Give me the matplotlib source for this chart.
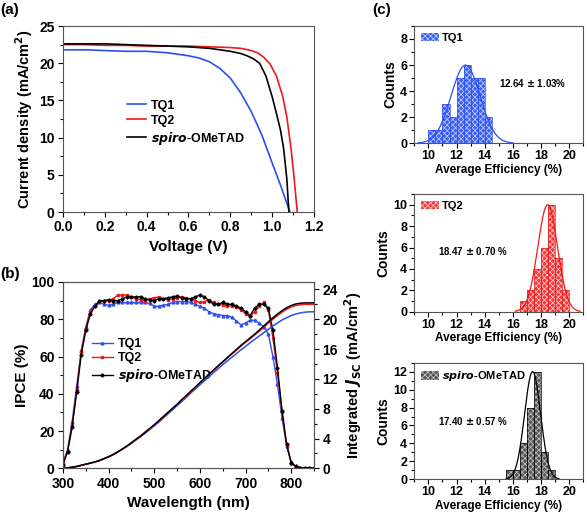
import numpy as np
import matplotlib
matplotlib.use('Agg')
import matplotlib.pyplot as plt
from matplotlib.ticker import MultipleLocator, FormatStrFormatter

plt.rcParams['font.family'] = ['Liberation Sans', 'DejaVu Sans']
plt.rcParams['font.weight'] = 'bold'
plt.rcParams['axes.labelweight'] = 'bold'
plt.rcParams['hatch.linewidth'] = 0.6

# ---- (a) J-V curves ----
v_tq1 = [0.0, 0.1, 0.2, 0.3, 0.4, 0.5, 0.55, 0.6, 0.65, 0.7, 0.75, 0.8, 0.85, 0.9, 0.95, 1.0, 1.04, 1.085]
j_tq1 = [21.8, 21.8, 21.7, 21.6, 21.6, 21.4, 21.2, 21.0, 20.7, 20.2, 19.3, 18.0, 16.0, 13.5, 10.4, 6.6, 3.6, 0.0]

v_tq2 = [0.0, 0.1, 0.2, 0.3, 0.4, 0.5, 0.6, 0.7, 0.8, 0.85, 0.9, 0.93, 0.96, 0.99, 1.02, 1.05, 1.07, 1.09, 1.105, 1.12]
j_tq2 = [22.5, 22.5, 22.4, 22.4, 22.3, 22.3, 22.3, 22.2, 22.1, 22.0, 21.7, 21.4, 20.8, 19.9, 18.3, 15.6, 12.8, 8.6, 4.6, 0.0]

v_spiro = [0.0, 0.1, 0.2, 0.3, 0.4, 0.5, 0.6, 0.7, 0.75, 0.8, 0.85, 0.88, 0.91, 0.94, 0.97, 1.0, 1.02, 1.04, 1.055, 1.07, 1.08]
j_spiro = [22.6, 22.6, 22.6, 22.5, 22.4, 22.3, 22.2, 22.0, 21.8, 21.6, 21.3, 21.0, 20.6, 20.0, 18.3, 15.5, 13.3, 11.0, 8.5, 4.5, 0.0]

# ---- (b) IPCE and integrated Jsc ----
wl = [300, 310, 320, 330, 340, 350, 360, 370, 380, 390, 400, 410, 420, 430, 440, 450, 460, 470, 480, 490,
      500, 510, 520, 530, 540, 550, 560, 570, 580, 590, 600, 610, 620, 630, 640, 650, 660, 670, 680, 690,
      700, 710, 720, 730, 740, 750, 760, 770, 780, 790, 800, 810, 820, 830, 840, 850]
ipce_tq1 = [3, 10, 25, 44, 63, 76, 85, 88, 89, 88, 87.5, 88, 89, 89, 89, 89, 89, 89, 89, 88.5,
            87, 87, 87.5, 88, 89, 89.5, 89.5, 89.5, 89, 88, 87, 86, 84, 83, 82.5, 82, 82, 81, 79, 77,
            78, 79.5, 79.5, 78, 76, 72, 60, 45, 27, 12, 3, 1, 0.4, 0.2, 0.1, 0.1]
ipce_tq2 = [3, 9, 23, 42, 63, 75, 84, 87, 89, 90, 90, 91, 93, 93, 93, 92, 91, 90.5, 90, 91,
            91.5, 92, 91, 90.5, 91, 91.5, 92, 91.5, 91, 90, 89, 89.5, 90.5, 89, 88, 87.5, 87.3, 87, 86.8, 85,
            83, 81.5, 84, 87, 89, 85, 70, 51, 30, 12.5, 3.6, 0.9, 0.3, 0.2, 0.1, 0.1]
ipce_spiro = [2, 9, 22, 41, 61, 74, 83, 87, 90, 90, 90.5, 90, 90, 91, 92, 92, 92, 92, 91, 90.5,
              90, 91, 91, 91.5, 92, 92.5, 91.5, 91, 91, 92, 93, 92, 90, 88, 88, 89, 88, 88, 87, 86,
              84, 82, 86, 88, 88, 86, 74, 54, 31, 13, 3, 1, 0.3, 0.2, 0.1, 0.1]

jint_tq1 = [0, 0.05, 0.15, 0.25, 0.4, 0.55, 0.7, 0.85, 1.05, 1.3, 1.55, 1.85, 2.2, 2.55, 2.95, 3.35, 3.8, 4.25, 4.7, 5.2,
            5.7, 6.2, 6.75, 7.3, 7.85, 8.4, 8.95, 9.5, 10.1, 10.65, 11.2, 11.75, 12.3, 12.85, 13.35, 13.9, 14.4, 14.9, 15.4, 15.9,
            16.35, 16.85, 17.3, 17.75, 18.2, 18.65, 19.1, 19.5, 19.9, 20.2, 20.5, 20.7, 20.85, 20.95, 21.0, 21.0]
jint_tq2 = [0, 0.05, 0.15, 0.25, 0.4, 0.55, 0.7, 0.85, 1.05, 1.3, 1.55, 1.85, 2.2, 2.55, 2.95, 3.4, 3.85, 4.3, 4.8, 5.3,
            5.8, 6.35, 6.9, 7.45, 8.0, 8.55, 9.15, 9.7, 10.3, 10.85, 11.45, 12.0, 12.6, 13.15, 13.7, 14.25, 14.8, 15.35, 15.85, 16.4,
            16.9, 17.4, 17.9, 18.4, 18.95, 19.5, 20.0, 20.5, 20.95, 21.35, 21.65, 21.85, 21.95, 22.0, 22.0, 22.0]
jint_spiro = [0, 0.05, 0.15, 0.25, 0.4, 0.55, 0.7, 0.85, 1.05, 1.3, 1.55, 1.85, 2.2, 2.6, 3.0, 3.45, 3.9, 4.35, 4.85, 5.35,
              5.85, 6.4, 6.95, 7.5, 8.05, 8.6, 9.2, 9.75, 10.35, 10.9, 11.5, 12.05, 12.65, 13.2, 13.75, 14.3, 14.85, 15.4, 15.95, 16.5,
              17.0, 17.5, 18.0, 18.55, 19.1, 19.65, 20.2, 20.7, 21.15, 21.55, 21.85, 22.05, 22.15, 22.2, 22.2, 22.2]

# ---- (c) efficiency histograms ----
tq1_start, tq1_counts = 10.0, [1, 1, 3, 2, 5, 6, 5, 5, 2]
tq2_start, tq2_counts = 16.5, [1, 2, 4, 6, 10, 5, 2]
spiro_start, spiro_counts = 15.5, [1, 1, 4, 8, 12, 3, 1]
bin_w = 0.5
fits = {'TQ1': (12.64, 1.03, 6.0), 'TQ2': (18.47, 0.70, 10.0), 'spiro': (17.40, 0.57, 12.0)}

blue, red, black = '#2b4ff2', '#f01818', '#000000'

fig = plt.figure(figsize=(5.87, 5.13), dpi=100)


def style_ax(ax, fs=10, pad=2.5):
    ax.tick_params(which='both', direction='out', labelsize=fs, width=0.8, pad=pad)
    ax.tick_params(which='major', length=3.5)
    ax.tick_params(which='minor', length=2)
    for s in ax.spines.values():
        s.set_linewidth(0.8)
        s.set_color('#555555')
    for lab in ax.get_xticklabels() + ax.get_yticklabels():
        lab.set_fontweight('bold')


# (a)
axa = fig.add_axes([0.1073, 0.5867, 0.4276, 0.3626])
axa.plot(v_tq1, j_tq1, color=blue, lw=1.2, label='TQ1')
axa.plot(v_tq2, j_tq2, color=red, lw=1.2, label='TQ2')
axa.plot(v_spiro, j_spiro, color=black, lw=1.2, label='$\\bfit{spiro}$-OMeTAD')
axa.set_xlim(0, 1.2)
axa.set_ylim(0, 25)
axa.xaxis.set_major_locator(MultipleLocator(0.2))
axa.xaxis.set_minor_locator(MultipleLocator(0.1))
axa.yaxis.set_major_locator(MultipleLocator(5))
axa.yaxis.set_minor_locator(MultipleLocator(2.5))
axa.set_xlabel('Voltage (V)', fontsize=11, labelpad=4)
axa.set_ylabel('Current density (mA/cm$^\\mathbf{2}$)', fontsize=10.5, labelpad=3)
style_ax(axa, 10)
axa.xaxis.set_major_formatter(FormatStrFormatter('%.1f'))
axa.legend(loc='upper left', bbox_to_anchor=(0.21, 0.665), frameon=False,
           handlelength=1.5, handletextpad=0.4, labelspacing=0.25, prop={'weight': 'bold', 'size': 9})

# (b)
axb = fig.add_axes([0.1073, 0.0871, 0.4276, 0.3632])
axb.plot(wl, ipce_tq1, color=blue, lw=1.0, marker='^', ms=2.0, label='TQ1')
axb.plot(wl, ipce_tq2, color=red, lw=1.0, marker='s', ms=2.0, label='TQ2')
axb.plot(wl, ipce_spiro, color=black, lw=1.0, marker='D', ms=1.6, label='$\\bfit{spiro}$-OMeTAD')
axb.set_xlim(300, 850)
axb.set_ylim(0, 100)
axb.xaxis.set_major_locator(MultipleLocator(100))
axb.xaxis.set_minor_locator(MultipleLocator(50))
axb.yaxis.set_major_locator(MultipleLocator(20))
axb.yaxis.set_minor_locator(MultipleLocator(10))
axb.set_xlabel('Wavelength (nm)', fontsize=11, labelpad=4)
axb.set_ylabel('IPCE (%)', fontsize=11, labelpad=2)
style_ax(axb, 10)
axb.legend(loc='upper left', bbox_to_anchor=(0.07, 0.76), frameon=False,
           handlelength=1.7, handletextpad=0.4, labelspacing=0.2, prop={'weight': 'bold', 'size': 9})

axb2 = axb.twinx()
axb2.plot(wl, jint_tq1, color=blue, lw=1.1)
axb2.plot(wl, jint_tq2, color=red, lw=1.1)
axb2.plot(wl, jint_spiro, color=black, lw=1.1)
axb2.set_ylim(0, 25)
axb2.yaxis.set_major_locator(MultipleLocator(4))
axb2.yaxis.set_minor_locator(MultipleLocator(2))
axb2.set_ylabel('Integrated $\\mathbf{\\it{J}}_{\\mathbf{SC}}$ (mA/cm$^\\mathbf{2}$)', fontsize=10.5, labelpad=3)
style_ax(axb2, 10)

# (c)
hist_specs = [
    ([0.7058, 0.7207, 0.2879, 0.2287], tq1_start, tq1_counts, 'TQ1', '#3a5ff0', '#b8c6ff', blue, 9, 2, 'TQ1',
     '12.64 $\\pm$ 1.03%', (0.50, 0.51)),
    ([0.7058, 0.3924, 0.2879, 0.2294], tq2_start, tq2_counts, 'TQ2', '#f23a3a', '#ffc0c0', red, 11, 2, 'TQ2',
     '18.47 $\\pm$ 0.70 %', (0.14, 0.52)),
    ([0.7058, 0.0657, 0.2879, 0.2273], spiro_start, spiro_counts, 'spiro', '#555555', '#bbbbbb', black, 13, 2,
     '$\\bfit{spiro}$-OMeTAD', '17.40 $\\pm$ 0.57 %', (0.14, 0.50)),
]
for rect, start, counts, key, fc, hc, lc, ytop, ystep, lab, txt, tpos in hist_specs:
    ax = fig.add_axes(rect)
    lefts = start + bin_w * np.arange(len(counts))
    ax.bar(lefts, counts, width=bin_w, align='edge', facecolor=fc, edgecolor=hc,
           hatch='xxxxxx', linewidth=0, label=lab)
    ax.bar(lefts, counts, width=bin_w, align='edge', fill=False, edgecolor=lc, linewidth=0.5)
    mu, sd, amp = fits[key]
    xs = np.linspace(mu - 3.3 * sd, mu + 3.3 * sd, 200)
    ax.plot(xs, amp * np.exp(-0.5 * ((xs - mu) / sd) ** 2), color=lc, lw=0.9)
    ax.set_xlim(9, 21)
    ax.set_ylim(0, ytop)
    ax.xaxis.set_major_locator(MultipleLocator(2))
    ax.xaxis.set_minor_locator(MultipleLocator(1))
    ax.yaxis.set_major_locator(MultipleLocator(ystep))
    ax.yaxis.set_minor_locator(MultipleLocator(ystep / 2))
    ax.set_ylabel('Counts', fontsize=10, labelpad=2)
    ax.set_xlabel('Average Efficiency (%)', fontsize=8.5, labelpad=1)
    style_ax(ax, 9, pad=1.5)
    ax.text(tpos[0], tpos[1], txt, transform=ax.transAxes, fontsize=7, fontweight='bold', va='center')
    ax.legend(loc='upper left', frameon=False, handlelength=1.6, handleheight=0.8,
              handletextpad=0.3, borderaxespad=0.2, prop={'weight': 'bold', 'size': 8})

fig.text(0.0, 0.972, '(a)', fontsize=11, fontweight='bold')
fig.text(0.0, 0.458, '(b)', fontsize=11, fontweight='bold')
fig.text(0.635, 0.972, '(c)', fontsize=11, fontweight='bold')

fig.savefig('out.png', dpi=100)
